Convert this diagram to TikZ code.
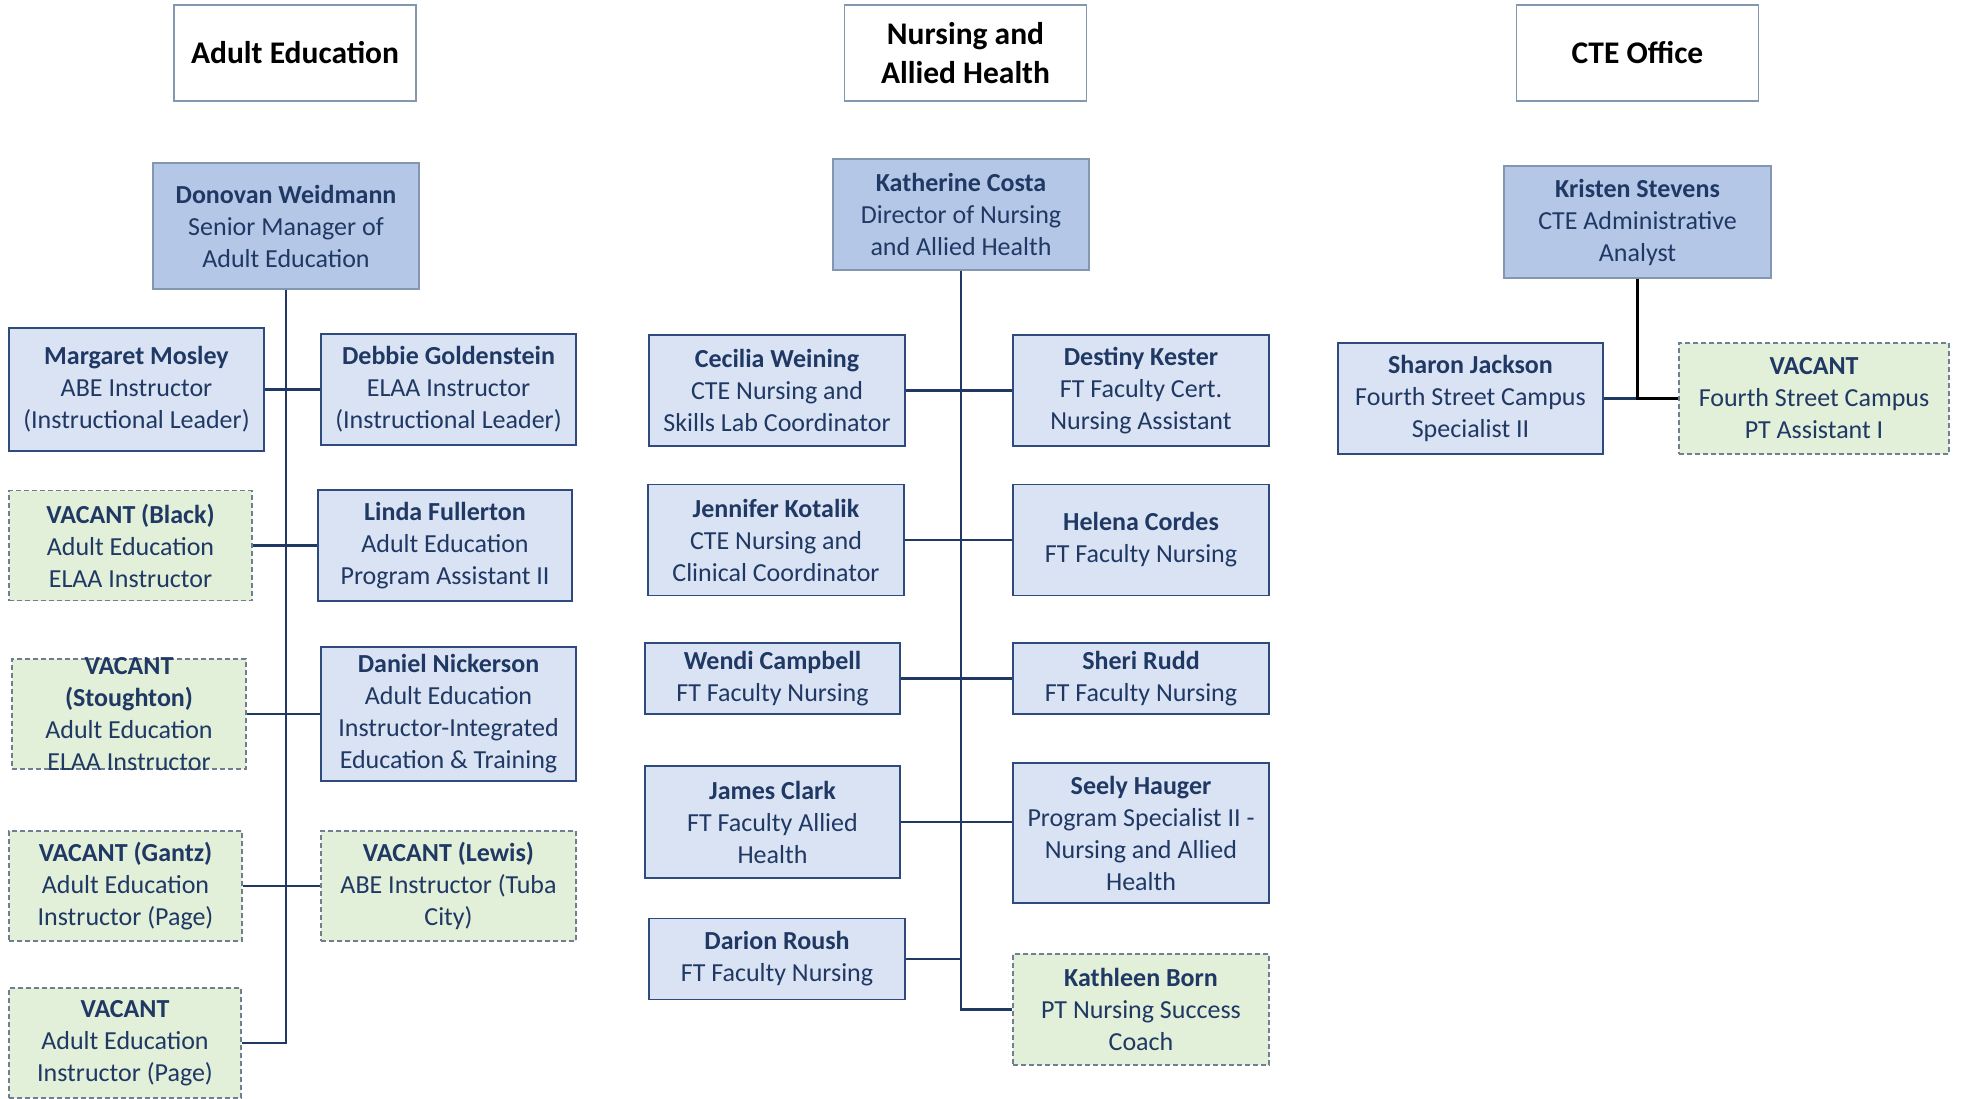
\documentclass[tikz,border=0pt]{standalone}
\usepackage{fontspec}
\setmainfont{Carlito}
\usepackage{tikz}
\usetikzlibrary{positioning,calc}
\definecolor{navy}{HTML}{1F3864}
\definecolor{mgrfill}{HTML}{B4C7E7}
\definecolor{stafffill}{HTML}{DAE3F3}
\definecolor{vacfill}{HTML}{E2F0D9}
\definecolor{boxline}{HTML}{2F4A7C}
\definecolor{greyline}{HTML}{8497B0}
\definecolor{vacline}{HTML}{6F7F8F}
\tikzstyle{box}=[rectangle,align=center,text=navy,inner sep=0pt,line width=1.3pt,font=\fontsize{26}{32}\selectfont]
\tikzstyle{mgr}=[box,draw=greyline,fill=mgrfill]
\tikzstyle{staff}=[box,draw=boxline,fill=stafffill]
\tikzstyle{vacant}=[box,draw=vacline,fill=vacfill,dash pattern=on 5pt off 3pt]
\tikzstyle{head}=[rectangle,draw=greyline,line width=1.3pt,fill=white,align=center,minimum width=242pt,minimum height=96pt,font=\fontsize{31.5}{39}\selectfont\bfseries]
\tikzstyle{link}=[draw=navy,line width=2.6pt]

\begin{document}
\begin{tikzpicture}[x=1pt,y=-1pt]
\useasboundingbox[fill=white] (0,0) rectangle (1961,1098);

\node[head] (hadult) at (295,53) {Adult Education};
\node[head] (hnursing) at (965.5,53) {Nursing and\\Allied Health};
\node[head] (hcte) at (1637.5,53) {CTE Office};

\node[mgr,minimum width=266pt,minimum height=126pt] (donovan) at (286,226) {\textbf{Donovan Weidmann}\\Senior Manager of\\Adult Education};
\node[staff,minimum width=255pt,minimum height=123pt] (margaret) at (136.5,389.5) {\textbf{Margaret Mosley}\\ABE Instructor\\(Instructional Leader)};
\node[staff,minimum width=255pt,minimum height=111pt] (debbie) at (448.5,389.5) {\textbf{Debbie Goldenstein}\\ELAA Instructor\\(Instructional Leader)};
\node[vacant,minimum width=243pt,minimum height=110pt] (vblack) at (130.5,545.5) {\textbf{VACANT (Black)}\\Adult Education\\ELAA Instructor};
\node[staff,minimum width=254pt,minimum height=111pt] (linda) at (445,545.5) {\textbf{Linda Fullerton}\\Adult Education\\Program Assistant II};
\node[vacant,minimum width=234pt,minimum height=110pt] (vstoughton) at (129,714) {};
\node[box] (vstoughtontext) at (vstoughton) {\textbf{VACANT}\\\textbf{(Stoughton)}\\Adult Education\\ELAA Instructor};
\node[staff,minimum width=255pt,minimum height=134pt] (daniel) at (448.5,714) {\textbf{Daniel Nickerson}\\Adult Education\\Instructor-Integrated\\Education \& Training};
\node[vacant,minimum width=233pt,minimum height=110pt] (vgantz) at (125.5,886) {\textbf{VACANT (Gantz)}\\Adult Education\\Instructor (Page)};
\node[vacant,minimum width=255pt,minimum height=110pt] (vlewis) at (448.5,886) {\textbf{VACANT (Lewis)}\\ABE Instructor (Tuba\\City)};
\node[vacant,minimum width=232pt,minimum height=110pt] (vpage) at (125,1043) {\textbf{VACANT}\\Adult Education\\Instructor (Page)};

\draw[link] (donovan.south) |- (vpage.east);
\draw[link] (margaret.east) -- (debbie.west);
\draw[link] (vblack.east) -- (linda.west);
\draw[link] (vstoughton.east) -- (daniel.west);
\draw[link] (vgantz.east) -- (vlewis.west);

\node[mgr,minimum width=256pt,minimum height=111pt] (katherine) at (961,214.5) {\textbf{Katherine Costa}\\Director of Nursing\\and Allied Health};
\node[staff,minimum width=256pt,minimum height=111pt] (cecilia) at (777,390.5) {\textbf{Cecilia Weining}\\CTE Nursing and\\Skills Lab Coordinator};
\node[staff,minimum width=256pt,minimum height=111pt] (destiny) at (1141,390.5) {\textbf{Destiny Kester}\\FT Faculty Cert.\\Nursing Assistant};
\node[staff,minimum width=256pt,minimum height=111pt] (jennifer) at (776,540) {\textbf{Jennifer Kotalik}\\CTE Nursing and\\Clinical Coordinator};
\node[staff,minimum width=256pt,minimum height=111pt] (helena) at (1141,540) {\textbf{Helena Cordes}\\FT Faculty Nursing};
\node[staff,minimum width=255pt,minimum height=71pt] (wendi) at (772.5,678.5) {\textbf{Wendi Campbell}\\FT Faculty Nursing};
\node[staff,minimum width=256pt,minimum height=71pt] (sheri) at (1141,678.5) {\textbf{Sheri Rudd}\\FT Faculty Nursing};
\node[staff,minimum width=255pt,minimum height=112pt] (james) at (772.5,822) {\textbf{James Clark}\\FT Faculty Allied\\Health};
\node[staff,minimum width=256pt,minimum height=140pt] (seely) at (1141,833) {\textbf{Seely Hauger}\\Program Specialist II -\\Nursing and Allied\\Health};
\node[staff,minimum width=256pt,minimum height=81pt] (darion) at (777,959) {\textbf{Darion Roush}\\FT Faculty Nursing};
\node[vacant,minimum width=256pt,minimum height=111pt] (kathleen) at (1141,1009.5) {\textbf{Kathleen Born}\\PT Nursing Success\\Coach};

\draw[link] (katherine.south) |- (kathleen.west);
\draw[link] (cecilia.east) -- (destiny.west);
\draw[link] (jennifer.east) -- (helena.west);
\draw[link] (wendi.east) -- (sheri.west);
\draw[link] (james.east) -- (james.east -| seely.west);
\draw[link] (darion.east) -- (darion.east -| katherine.south);

\node[mgr,minimum width=267pt,minimum height=112pt] (kristen) at (1637.5,222) {\textbf{Kristen Stevens}\\CTE Administrative\\Analyst};
\node[staff,minimum width=265pt,minimum height=111pt] (sharon) at (1470.5,398.5) {\textbf{Sharon Jackson}\\Fourth Street Campus\\Specialist II};
\node[vacant,minimum width=270pt,minimum height=111pt] (vcte) at (1814,398.5) {\textbf{VACANT}\\Fourth Street Campus\\PT Assistant I};

\draw[link] (sharon.east) -- (kristen.south |- sharon.east);
\draw[link,draw=black] (kristen.south) |- (vcte.west);
\end{tikzpicture}
\end{document}
